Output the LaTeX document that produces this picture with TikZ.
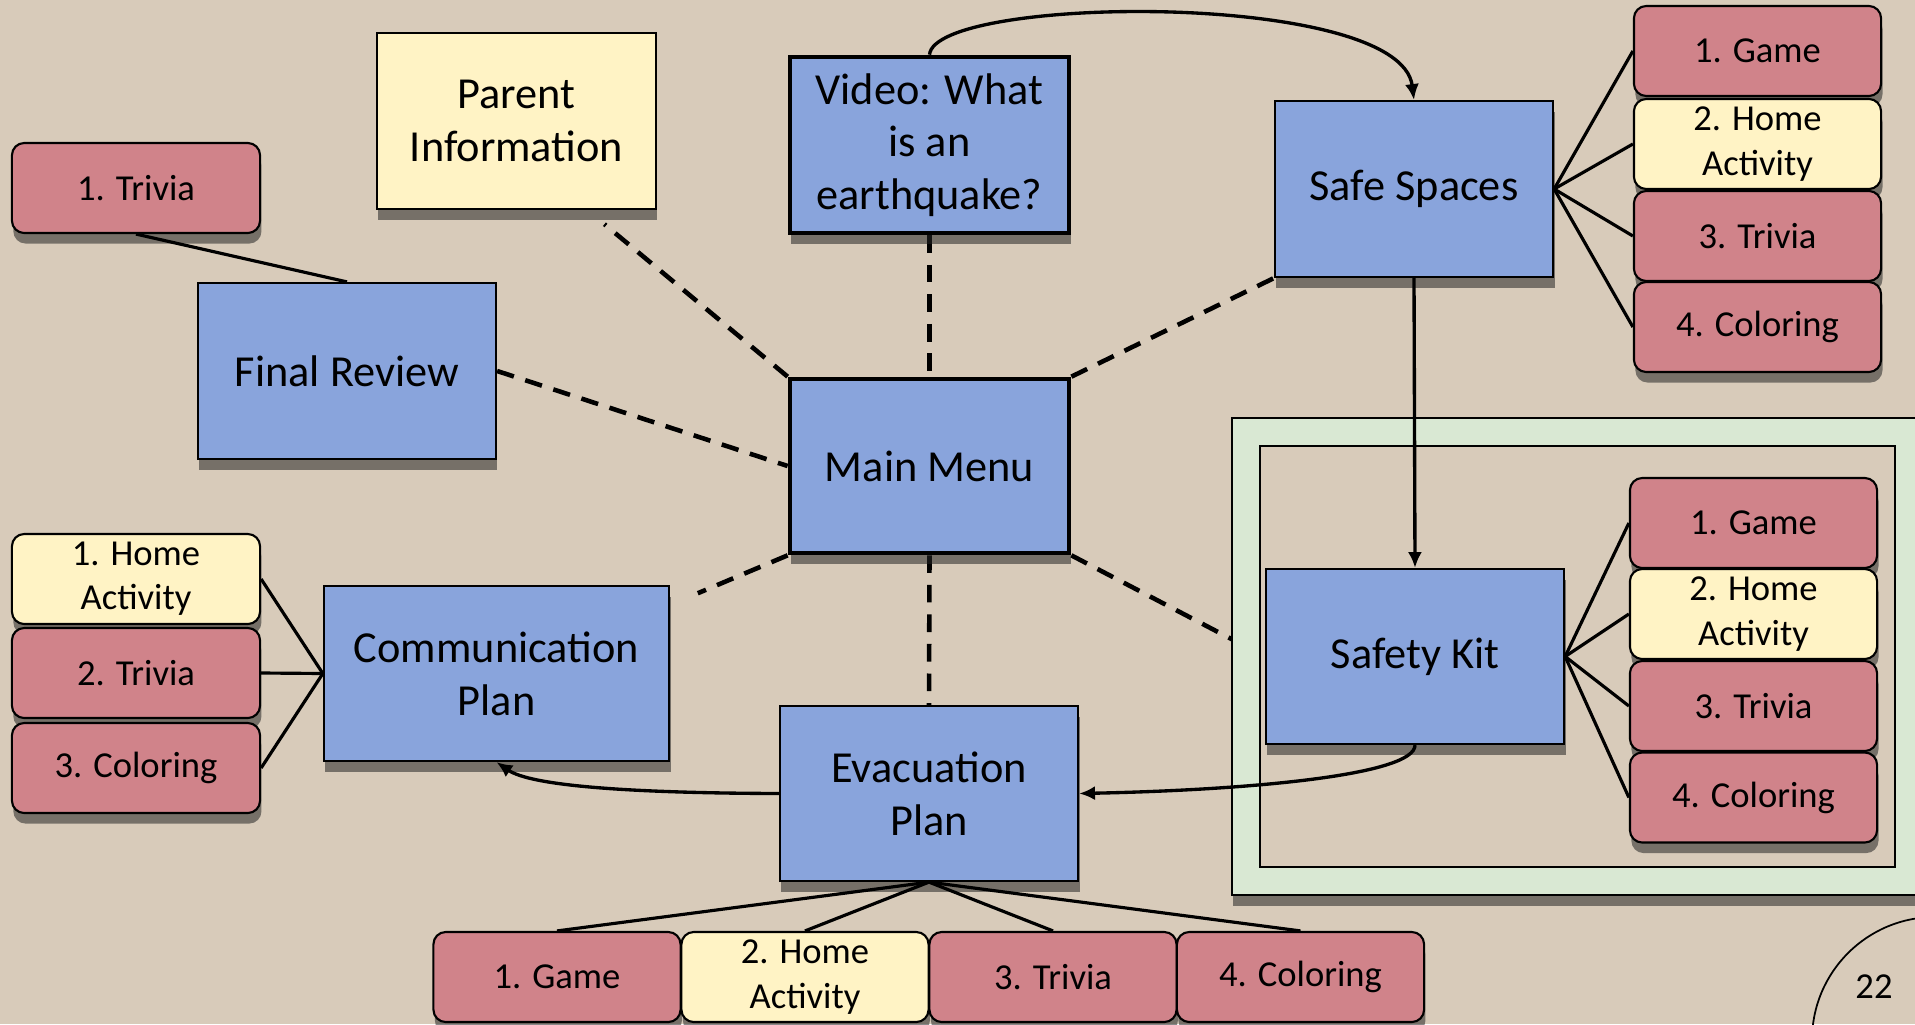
\documentclass[tikz,border=0pt]{standalone}
\usepackage{fontspec}
\setmainfont{Carlito}
\usetikzlibrary{shadows,arrows.meta,calc}
\definecolor{bgc}{HTML}{D8CBBA}
\definecolor{bluebox}{HTML}{89A4DC}
\definecolor{pinkbox}{HTML}{D0838A}
\definecolor{yellowbox}{HTML}{FFF3C5}
\definecolor{greenframe}{HTML}{D9E8D3}
\pgfdeclarelayer{bglayer}
\pgfdeclarelayer{underlayer}
\pgfdeclarelayer{framelayer}
\pgfsetlayers{bglayer,underlayer,framelayer,main}
\tikzset{
  shad/.style={drop shadow={shadow xshift=0.4pt,shadow yshift=-3pt,opacity=0.55,fill=black!85}},
  bigbox/.style={draw=black,line width=0.6pt,fill=bluebox,align=center,
    font=\fontsize{12.6}{15}\selectfont,inner sep=0pt,shad},
  thickbox/.style={bigbox,line width=1.3pt},
  smallbox/.style={draw=black,line width=0.6pt,rounded corners=3.5pt,align=center,
    font=\fontsize{10.4}{12.6}\selectfont,inner sep=0pt,
    minimum width=2.47cm,minimum height=0.9cm,shad},
  pinkb/.style={smallbox,fill=pinkbox},
  yelb/.style={smallbox,fill=yellowbox},
  link/.style={line width=0.9pt},
  dashlink/.style={line width=1.3pt,dash pattern=on 5pt off 3.4pt},
  arr/.style={line width=0.95pt,-{Latex[length=4.5pt,width=4pt]}}
}
\begin{document}
\begin{tikzpicture}[x=0.01cm,y=-0.01cm]
\begin{pgfonlayer}{bglayer}
\fill[bgc] (0,0) rectangle (1915,1024);
\end{pgfonlayer}
\useasboundingbox (0,0) rectangle (1915,1024);
\clip (0,0) rectangle (1915,1024);

% main nodes
\node[bigbox,minimum width=2.98cm,minimum height=1.76cm] (final) at (347,371) {Final Review};
\node[bigbox,fill=yellowbox,minimum width=2.79cm,minimum height=1.76cm] (parent) at (516.5,121) {Parent\\Information};
\node[thickbox,minimum width=2.79cm,minimum height=1.76cm] (video) at (929.5,145) {Video: What\\is an\\earthquake?};
\node[thickbox,minimum width=2.79cm,minimum height=1.74cm] (mm) at (929.5,466) {Main Menu};
\node[bigbox,minimum width=2.78cm,minimum height=1.76cm] (safe) at (1414,189) {Safe Spaces};
\node[bigbox,minimum width=2.98cm,minimum height=1.75cm] (kit) at (1415,656.5) {Safety Kit};
\node[bigbox,minimum width=3.45cm,minimum height=1.75cm] (comm) at (496.5,673.5) {Communication\\Plan};
\node[bigbox,minimum width=2.98cm,minimum height=1.75cm] (evac) at (929,793.5) {Evacuation\\Plan};

% small nodes
\node[pinkb,minimum width=2.48cm] (fr1) at (136,188) {1. Trivia};

\node[pinkb] (ss1) at (1757.5,51) {1. Game};
\node[yelb] (ss2) at (1757.5,144) {2. Home\\Activity};
\node[pinkb] (ss3) at (1757.5,236) {3. Trivia};
\node[pinkb] (ss4) at (1757.5,327) {4. Coloring};

\node[pinkb] (sk1) at (1753.5,523) {1. Game};
\node[yelb] (sk2) at (1753.5,614) {2. Home\\Activity};
\node[pinkb] (sk3) at (1753.5,706) {3. Trivia};
\node[pinkb] (sk4) at (1753.5,797.5) {4. Coloring};

\node[yelb,minimum width=2.48cm] (cp1) at (136,579) {1. Home\\Activity};
\node[pinkb,minimum width=2.48cm] (cp2) at (136,673) {2. Trivia};
\node[pinkb,minimum width=2.48cm] (cp3) at (136,768) {3. Coloring};

\node[pinkb] (ev1) at (557,977) {1. Game};
\node[yelb] (ev2) at (805,977) {2. Home\\Activity};
\node[pinkb] (ev3) at (1053,977) {3. Trivia};
\node[pinkb] (ev4) at (1300.5,977) {4. Coloring};

% page number
\node[font=\fontsize{10.4}{12.6}\selectfont] (pg) at (1874,987) {22};
\draw[line width=0.5pt] (1935,1040) circle[radius=123];

% dashed connectors (under the frame)
\begin{pgfonlayer}{underlayer}
\draw[dashlink] (final.east) -- (mm.west);
\draw[dashlink,shorten >=0.22cm] (mm.north west) -- ($(parent.south)+(71,0)$);
\draw[dashlink] (video.south) -- (mm.north);
\draw[dashlink] (mm.north east) -- (safe.south west);
\draw[dashlink,shorten >=0.3cm] (mm.south west) -- ($(comm.north east)+(0,20)$);
\draw[dashlink] (mm.south) -- (evac.north);
\draw[dashlink] (mm.south east) -- (kit.west);
\end{pgfonlayer}

% frame
\begin{pgfonlayer}{framelayer}
\draw[fill=greenframe,line width=0.6pt,shad] (1232,418) rectangle (1990,895);
\draw[fill=bgc,line width=0.6pt] (1260,446) rectangle (1895,867);
\end{pgfonlayer}

% solid connectors
\draw[link] (fr1.south) -- (final.north);
\foreach \c in {ss1,ss2,ss3,ss4} \draw[link] (safe.east) -- (\c.west);
\foreach \c in {sk1,sk2,sk3,sk4} \draw[link] (kit.east) -- (\c.west);
\foreach \c in {cp1,cp2,cp3} \draw[link] (comm.west) -- (\c.east);
\foreach \c in {ev1,ev2,ev3,ev4} \draw[link] (evac.south) -- (\c.north);

\draw[arr] (video.north) .. controls (935,-5) and (1400,-10) .. (safe.north);
\draw[arr] (safe.south) -- (kit.north);
\draw[arr] (kit.south) .. controls (1415,775) and (1250,790) .. (evac.east);
\draw[arr] (evac.west) .. controls (620,793) and (530,785) .. (comm.south);
\end{tikzpicture}
\end{document}
